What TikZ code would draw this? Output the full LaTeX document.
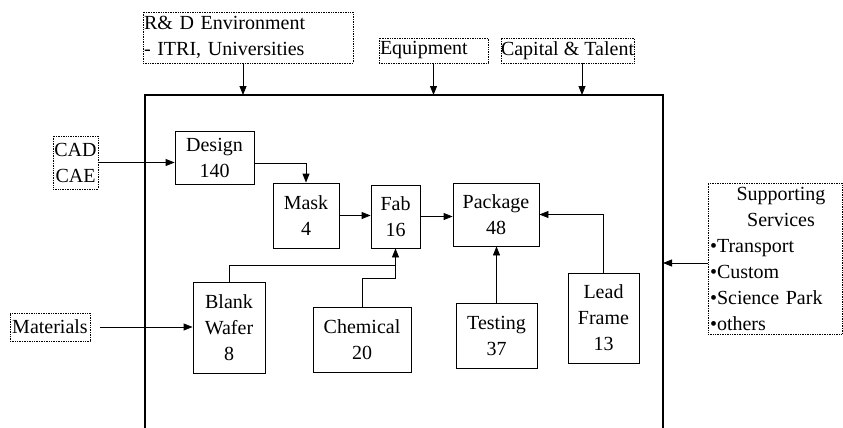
\documentclass[tikz,border=0pt]{standalone}
\usepackage{fontspec}
\setmainfont{Liberation Serif}
\usetikzlibrary{arrows.meta,calc}
\begin{document}
\begin{tikzpicture}[x=1pt,y=-1pt,
  every node/.style={font=\fontsize{20pt}{26pt}\selectfont},
  unit/.style={draw, line width=0.8pt, inner sep=1pt, align=center},
  outer/.style={draw, densely dotted, line width=0.7pt, inner sep=1pt},
  arr/.style={line width=0.8pt, -{Triangle[length=9pt,width=7pt]}},
  link/.style={line width=0.8pt},
  frame/.style={line width=1.4pt}]
\useasboundingbox (0,0) rectangle (843,428);

% frame
\coordinate (ftl) at (145,95);
\coordinate (ftr) at (663,95);
\coordinate (fbl) at (145,428);
\coordinate (fbr) at (663,428);
\draw[frame] (fbl) -- (ftl) -- (ftr) -- (fbr);

% outside inputs
\node[outer, text width=208pt, minimum height=51, align=left] (rd) at (248,37.5) {R\& D Environment\\- ITRI, Universities};
\node[outer, text width=107pt, minimum height=25, align=left] (equip) at (433.5,50.5) {Equipment};
\node[outer, minimum width=133, minimum height=25, align=center, inner sep=0pt] (capital) at (567.5,50.5) {Capital \& Talent};
\node[outer, minimum width=45, minimum height=53, align=center] (cad) at (75.5,162.5) {CAD\\CAE};
\node[outer, minimum width=80, minimum height=28, align=center, inner sep=0pt] (materials) at (50,327) {Materials};
\node[outer, text width=130pt, inner xsep=2pt, minimum height=151, align=left] (support) at (775,258.5)
  {\centering\hspace*{12pt}Supporting\\\hspace*{12pt}Services\par\raggedright •Transport\\•Custom\\•Science Park\\•others};

% units
\node[unit, minimum width=79, minimum height=53] (design) at (214.5,157.5) {Design\\140};
\node[unit, minimum width=66, minimum height=65] (mask) at (306,215.5) {Mask\\4};
\node[unit, minimum width=49, minimum height=63] (fab) at (395.5,216.5) {Fab\\16};
\node[unit, minimum width=86, minimum height=63] (package) at (496,214.5) {Package\\48};
\node[unit, minimum width=72, minimum height=91] (wafer) at (229,327.5) {Blank\\Wafer\\8};
\node[unit, minimum width=98, minimum height=65] (chemical) at (362,339.5) {Chemical\\20};
\node[unit, minimum width=81, minimum height=65] (testing) at (496.5,335.5) {Testing\\37};
\node[unit, minimum width=71, minimum height=90] (lead) at (603.5,318) {Lead\\Frame\\13};

% top arrows
\draw[arr] ([xshift=-5pt]rd.south) -- ([xshift=-5pt]rd.south |- ftl);
\draw[arr] (equip.south) -- (equip.south |- ftl);
\draw[arr] ([xshift=14.5pt]capital.south) -- ([xshift=14.5pt]capital.south |- ftl);

% side arrows
\draw[arr] (cad.east) -- (cad.east -| design.west);
\draw[arr] ([xshift=10pt]materials.east) -- (materials.east -| wafer.west);
\draw[arr] ([yshift=-4.5pt]support.west) -- ([yshift=-4.5pt]support.west -| ftr);

% internal flow
\draw[arr] ([yshift=-5.5pt]design.east) -| (mask.north);
\draw[arr] (mask.east) -- (mask.east -| fab.west);
\draw[arr] (fab.east) -- (fab.east -| package.west);
\draw[arr] (lead.north) |- (package.east);
\draw[arr] (testing.north) -- (testing.north |- package.south);
\draw[arr] (chemical.north) |- ([yshift=-30pt]fab.south) -- (fab.south);
\draw[link] (wafer.north) |- ([yshift=-17pt]fab.south);
\end{tikzpicture}
\end{document}
